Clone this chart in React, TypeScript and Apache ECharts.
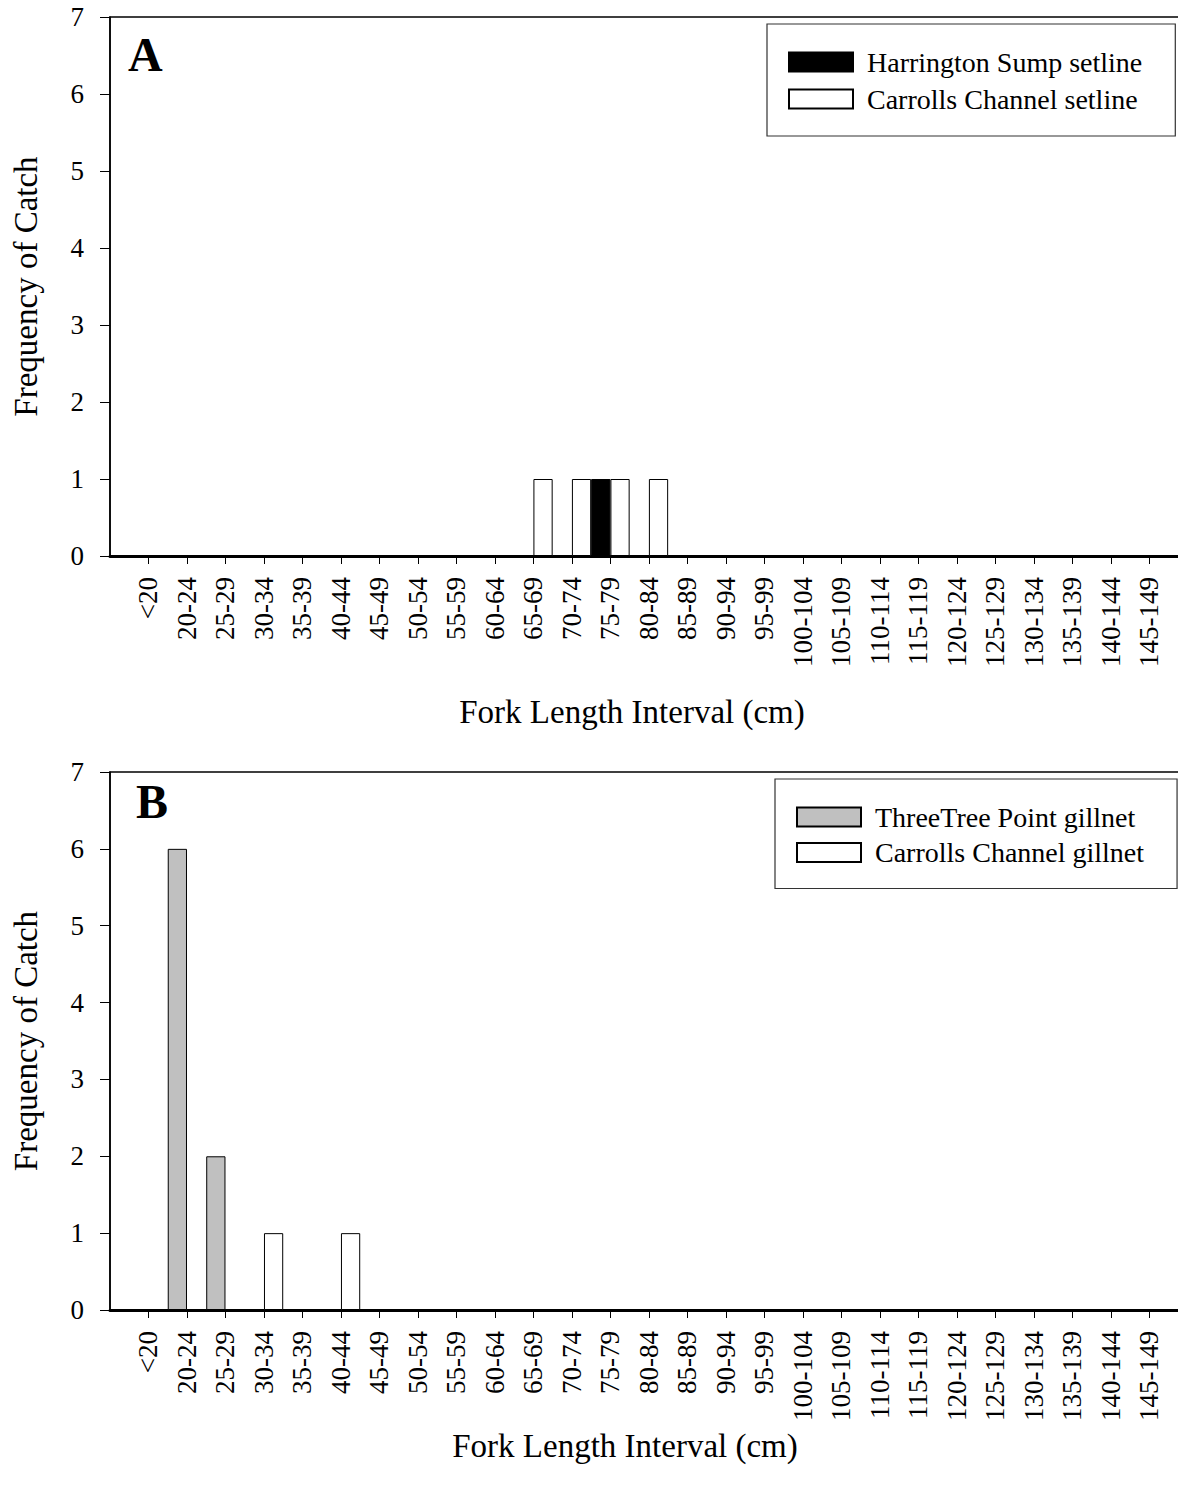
import React, { useEffect, useRef } from "react";
import * as echarts from "echarts";

const FONT = "'Liberation Serif', 'Times New Roman', serif";

const lengthIntervals = [
  "<20", "20-24", "25-29", "30-34", "35-39", "40-44", "45-49", "50-54", "55-59",
  "60-64", "65-69", "70-74", "75-79", "80-84", "85-89", "90-94", "95-99",
  "100-104", "105-109", "110-114", "115-119", "120-124", "125-129", "130-134",
  "135-139", "140-144", "145-149",
];

const harringtonSetline = [0, 0, 0, 0, 0, 0, 0, 0, 0, 0, 0, 0, 1, 0, 0, 0, 0, 0, 0, 0, 0, 0, 0, 0, 0, 0, 0];
const carrollsSetline = [0, 0, 0, 0, 0, 0, 0, 0, 0, 0, 1, 1, 1, 1, 0, 0, 0, 0, 0, 0, 0, 0, 0, 0, 0, 0, 0];
const threeTreeGillnet = [0, 6, 2, 0, 0, 0, 0, 0, 0, 0, 0, 0, 0, 0, 0, 0, 0, 0, 0, 0, 0, 0, 0, 0, 0, 0, 0];
const carrollsGillnet = [0, 0, 0, 1, 0, 1, 0, 0, 0, 0, 0, 0, 0, 0, 0, 0, 0, 0, 0, 0, 0, 0, 0, 0, 0, 0, 0];

const yTicks = { min: 0, max: 7, interval: 1 };

const seriesNames = {
  a1: "Harrington Sump setline",
  a2: "Carrolls Channel setline",
  b1: "ThreeTree Point gillnet",
  b2: "Carrolls Channel gillnet",
};

const axisCategories = ["", ...lengthIntervals, ""];
const pad = (arr: number[]) => [null, ...arr, null];

function makeXAxis(gridIndex: number) {
  return {
    type: "category",
    gridIndex,
    data: axisCategories,
    boundaryGap: false,
    axisLine: { show: true, lineStyle: { color: "#000", width: 3 } },
    axisTick: {
      show: true,
      length: 8,
      interval: (_i: number, v: string) => v !== "",
      lineStyle: { color: "#000", width: 1 },
    },
    axisLabel: {
      interval: 0,
      rotate: 90,
      margin: 21,
      fontSize: 27,
      fontFamily: FONT,
      color: "#000",
    },
    splitLine: { show: false },
  };
}

function makeYAxis(gridIndex: number) {
  return {
    type: "value",
    gridIndex,
    min: yTicks.min,
    max: yTicks.max,
    interval: yTicks.interval,
    axisLine: { show: true, lineStyle: { color: "#000", width: 1.5 } },
    axisTick: { show: true, length: 10, lineStyle: { color: "#000", width: 1 } },
    axisLabel: { margin: 26, fontSize: 27, fontFamily: FONT, color: "#000" },
    splitLine: { show: false },
  };
}

function barSeries(name: string, data: number[], idx: number, color: string) {
  return {
    type: "bar",
    name,
    xAxisIndex: idx,
    yAxisIndex: idx,
    data: pad(data),
    barGap: "0%",
    barCategoryGap: "0%",
    itemStyle: { color, borderColor: "#000", borderWidth: 1 },
    emphasis: { disabled: true },
  };
}

function makeLegend(names: string[], left: number, top: number, padding: number[], itemGap: number) {
  return {
    data: names,
    orient: "vertical",
    left,
    top,
    padding,
    itemGap,
    itemWidth: 64,
    itemHeight: 19,
    icon: "rect",
    selectedMode: false,
    borderColor: "#333",
    borderWidth: 1.2,
    textStyle: {
      fontSize: 28,
      fontFamily: FONT,
      color: "#000",
      lineHeight: 28,
      padding: [0, 0, 0, 9],
    },
  };
}

function textEl(text: string, x: number, y: number, size: number, opts: any = {}) {
  return {
    type: "text",
    x,
    y,
    rotation: opts.rotation || 0,
    style: {
      text,
      fill: "#000",
      fontSize: size,
      fontFamily: FONT,
      fontWeight: opts.bold ? "bold" : "normal",
      align: opts.align || "center",
      verticalAlign: "middle",
    },
  };
}

export default function App() {
  const ref = useRef<HTMLDivElement>(null);
  useEffect(() => {
    if (!ref.current) return;
    const chart = echarts.init(ref.current, null, { renderer: "svg" });
    const gridBase = {
      left: 110,
      width: 1077.8,
      show: true,
      borderColor: "#000",
      borderWidth: 1.5,
      backgroundColor: "transparent",
      containLabel: false,
      outerBoundsMode: "none",
    };
    const option = {
      animation: false,
      backgroundColor: "#fff",
      grid: [
        { ...gridBase, top: 17, height: 539 },
        { ...gridBase, top: 772, height: 538 },
      ],
      xAxis: [makeXAxis(0), makeXAxis(1)],
      yAxis: [makeYAxis(0), makeYAxis(1)],
      legend: [
        makeLegend([seriesNames.a1, seriesNames.a2], 767, 24, [24, 33, 23, 21], 9),
        makeLegend([seriesNames.b1, seriesNames.b2], 775, 779, [24, 33, 22, 21], 7.5),
      ],
      series: [
        barSeries(seriesNames.a1, harringtonSetline, 0, "#000"),
        barSeries(seriesNames.a2, carrollsSetline, 0, "#fff"),
        barSeries(seriesNames.b1, threeTreeGillnet, 1, "#c0c0c0"),
        barSeries(seriesNames.b2, carrollsGillnet, 1, "#fff"),
      ],
      graphic: [
        textEl("A", 128, 54, 48, { bold: true, align: "left" }),
        textEl("B", 136, 801, 48, { bold: true, align: "left" }),
        textEl("Fork Length Interval (cm)", 632, 712, 33),
        textEl("Fork Length Interval (cm)", 625, 1446, 33),
        textEl("Frequency of Catch", 26, 286.5, 33, { rotation: Math.PI / 2 }),
        textEl("Frequency of Catch", 26, 1041, 33, { rotation: Math.PI / 2 }),
      ],
    };
    chart.setOption(option as any);
    return () => chart.dispose();
  }, []);
  return (
    <div
      ref={ref}
      style={{ position: "absolute", left: 0, top: 0, width: 1178, height: 1489 }}
    />
  );
}
